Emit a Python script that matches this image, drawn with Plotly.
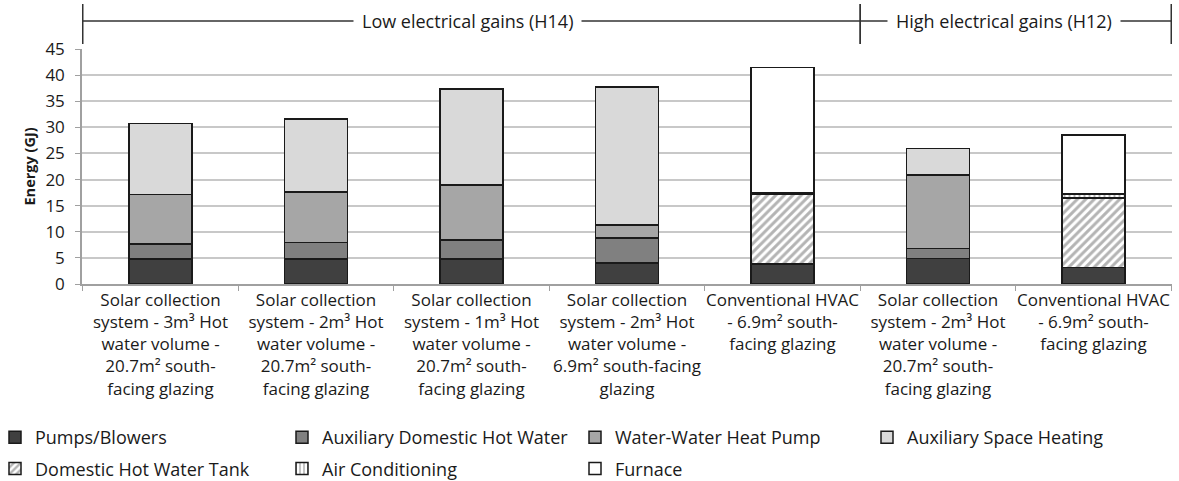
import plotly.graph_objects as go

# ---- data ----
scenario_ids = ["S1", "S2", "S3", "S4", "S5", "S6", "S7"]
tick_labels = [
    "Solar collection<br>system - 3m³ Hot<br>water volume -<br>20.7m² south-<br>facing glazing",
    "Solar collection<br>system - 2m³ Hot<br>water volume -<br>20.7m² south-<br>facing glazing",
    "Solar collection<br>system - 1m³ Hot<br>water volume -<br>20.7m² south-<br>facing glazing",
    "Solar collection<br>system - 2m³ Hot<br>water volume -<br>6.9m² south-facing<br>glazing",
    "Conventional HVAC<br>- 6.9m² south-<br>facing glazing",
    "Solar collection<br>system - 2m³ Hot<br>water volume -<br>20.7m² south-<br>facing glazing",
    "Conventional HVAC<br>- 6.9m² south-<br>facing glazing",
]
pumps_blowers = [4.8, 4.8, 4.8, 4.0, 3.8, 4.9, 3.2]
aux_dhw = [2.9, 3.1, 3.6, 4.8, 0, 1.9, 0]
water_water_hp = [9.4, 9.7, 10.6, 2.5, 0, 14.1, 0]
aux_space_heating = [13.6, 14.0, 18.3, 26.4, 0, 5.0, 0]
dhw_tank = [0, 0, 0, 0, 13.4, 0, 13.3]
air_conditioning = [0, 0, 0, 0, 0.3, 0, 0.7]
furnace = [0, 0, 0, 0, 24.0, 0, 11.3]

group_labels = ["Low electrical gains (H14)", "High electrical gains (H12)"]
y_title = "Energy (GJ)"

FONT = "Open Sans"
TXT = "#1a1a1a"
EDGE = "#1a1a1a"

series = [
    ("Pumps/Blowers", pumps_blowers, dict(color="#404040"), "legend"),
    ("Auxiliary Domestic Hot Water", aux_dhw, dict(color="#808080"), "legend2"),
    ("Water-Water Heat Pump", water_water_hp, dict(color="#a6a6a6"), "legend3"),
    ("Auxiliary Space Heating", aux_space_heating, dict(color="#d9d9d9"), "legend4"),
    ("Domestic Hot Water Tank", dhw_tank,
     dict(color="white", pattern=dict(shape="/", fgcolor="#6a6a6a", bgcolor="white", size=6, solidity=0.5)), "legend"),
    ("Air Conditioning", air_conditioning,
     dict(color="white", pattern=dict(shape="|", fgcolor="#6a6a6a", bgcolor="white", size=5, solidity=0.4)), "legend2"),
    ("Furnace", furnace, dict(color="white"), "legend3"),
]

fig = go.Figure()
for name, vals, mk, leg in series:
    marker = dict(mk)
    marker["line"] = dict(color=EDGE, width=1.5)
    fig.add_trace(go.Bar(
        x=scenario_ids, y=vals, name=name, marker=marker,
        legend=leg, legendgroup=name,
    ))

legend_common = dict(
    orientation="v", yanchor="top", xanchor="left",
    font=dict(family=FONT, size=18, color=TXT),
    bgcolor="rgba(0,0,0,0)", tracegroupgap=5, itemwidth=30,
)
leg_y = 1 - 419 / 481
fig.update_layout(
    legend=dict(x=(-5 - 82) / 1090, y=(284 - 419) / 235, xref="paper", yref="paper", **legend_common),
    legend2=dict(x=282 / 1179, y=leg_y, xref="container", yref="container", **legend_common),
    legend3=dict(x=575 / 1179, y=leg_y, xref="container", yref="container", **legend_common),
    legend4=dict(x=867 / 1179, y=leg_y, xref="container", yref="container", **legend_common),
)

fig.update_layout(
    barmode="stack",
    bargap=0.595,
    width=1179, height=481,
    margin=dict(l=82, r=7, t=49, b=197, autoexpand=False),
    plot_bgcolor="white", paper_bgcolor="white",
    font=dict(family=FONT, size=17, color=TXT),
    showlegend=True,
)
fig.update_xaxes(
    type="category", tickangle=0,
    tickmode="array", tickvals=scenario_ids, ticktext=tick_labels,
    tickson="boundaries", ticks="outside", ticklen=5, tickcolor="#a0a0a0",
    showline=True, linecolor="#a0a0a0", linewidth=1.5,
    showgrid=False, tickfont=dict(family=FONT, size=17, color=TXT),
)
fig.update_yaxes(
    range=[0, 45], dtick=5, tick0=0,
    ticks="outside", ticklen=5, tickcolor="#a0a0a0", ticklabelstandoff=7,
    showline=True, linecolor="#a0a0a0", linewidth=1.5,
    showgrid=True, gridcolor="#c8c8c8", gridwidth=1.5,
    zeroline=False,
    tickfont=dict(family=FONT, size=17, color=TXT),
)

# y-axis title
fig.add_annotation(x=(29 - 82) / 1090, y=0.5, xref="paper", yref="paper",
                   text="<b>" + y_title + "</b>", textangle=-90, showarrow=False,
                   xanchor="center", yanchor="middle",
                   font=dict(family=FONT, size=14.5, color=TXT))

# group brackets above the plot
line_y = (284 - 21) / 235
groups = [(-0.5, 4.5, group_labels[0], -4), (4.5, 6.5, group_labels[1], -12)]
for x0, x1, label, xs in groups:
    fig.add_shape(type="line", xref="x", yref="paper", x0=x0, x1=x1, y0=line_y, y1=line_y,
                  line=dict(color="#333333", width=1.5))
    for xv in (x0, x1):
        fig.add_shape(type="line", xref="x", yref="paper", x0=xv, x1=xv,
                      y0=(284 - 44) / 235, y1=(284 - 4) / 235,
                      line=dict(color="#333333", width=1.5))
    fig.add_annotation(x=(x0 + x1) / 2, y=line_y, xref="x", yref="paper", text=label,
                       showarrow=False, bgcolor="white", borderpad=8, xshift=xs,
                       yanchor="middle", xanchor="center",
                       font=dict(family=FONT, size=18, color=TXT))

fig.write_html("out.html", config={"displayModeBar": False},
               post_script="document.body.style.margin='0';document.body.style.padding='0';")
